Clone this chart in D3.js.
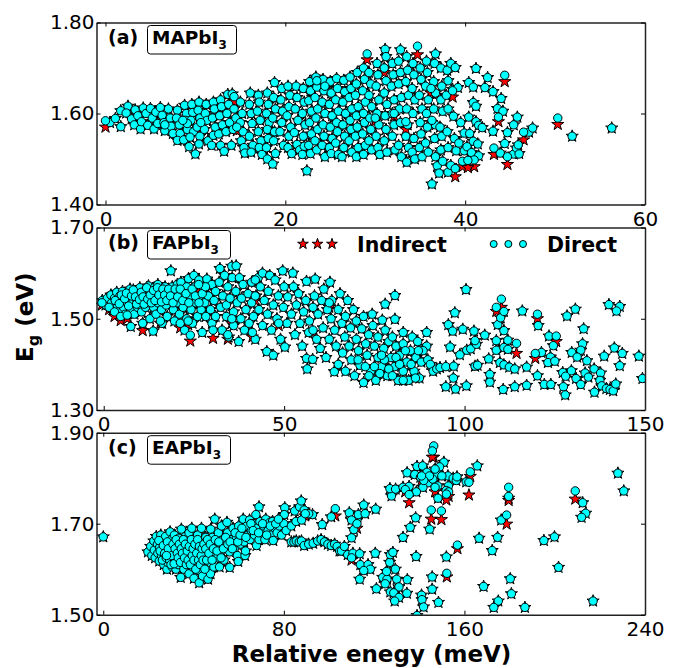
<!DOCTYPE html>
<html>
<head>
<meta charset="utf-8">
<script src="https://cdn.jsdelivr.net/npm/d3@7"></script>
<style>
  html, body { margin: 0; background: #fff; }
  svg { display: block; }
  text { font-family: "DejaVu Sans", sans-serif; }
  .tick text { font-size: 20px; }
</style>
</head>
<body>
<script>
// direct gap points: [energy meV, gap eV]
const mapiDirect = [
[0.5,1.58],[1.1,1.589],[1.7,1.571],[1.7,1.606],[2.5,1.616],[2.3,1.601],[3.3,1.608],[2.9,1.588],[3.2,1.575],[3.6,1.595],[3.9,1.566],[4.2,1.612],[4.0,1.582],[4.5,1.6],[4.7,1.574],[5.0,1.611],[5.2,1.59],[5.4,1.566],[5.6,1.603],[5.8,1.578],
[6.1,1.613],[6.3,1.596],[6.5,1.58],[6.6,1.562],[7.0,1.61],[7.2,1.59],[7.3,1.572],[7.5,1.556],[8.0,1.607],[7.9,1.59],[8.2,1.575],[8.3,1.556],[8.0,1.541],
[8.8,1.618],[9.0,1.6],[8.9,1.585],[9.1,1.565],[8.7,1.542],[9.6,1.62],[9.7,1.602],[9.5,1.585],[9.8,1.56],[9.4,1.548],[9.3,1.527],[10.4,1.625],[10.3,1.607],[10.5,1.59],[10.2,1.57],[10.5,1.55],[10.4,1.533],[10.0,1.511],
[11.2,1.62],[11.1,1.6],[11.3,1.585],[11.0,1.565],[11.4,1.54],[12.0,1.625],[12.1,1.61],[11.9,1.59],[12.2,1.57],[12.0,1.552],[11.8,1.53],[12.8,1.63],[12.9,1.615],[12.7,1.595],[13.0,1.575],[12.6,1.555],[12.8,1.53],[13.2,1.517],
[13.6,1.642],[13.7,1.62],[13.5,1.6],[13.8,1.58],[13.4,1.56],[14.1,1.643],[14.3,1.61],[14.5,1.59],[14.2,1.565],[14.0,1.53],[15.0,1.625],[15.2,1.6],[15.0,1.58],[15.3,1.56],[15.1,1.54],[15.4,1.525],[15.5,1.513],
[16.1,1.645],[16.0,1.62],[16.2,1.6],[16.3,1.578],[16.0,1.55],[16.4,1.53],[16.2,1.515],[17.0,1.64],[17.1,1.625],[16.9,1.605],[17.2,1.585],[17.0,1.56],[17.3,1.54],[17.1,1.525],[17.4,1.51],
[18.0,1.645],[18.1,1.62],[17.9,1.6],[18.2,1.58],[18.0,1.565],[18.1,1.545],[17.9,1.525],[18.0,1.5],[18.6,1.489],[18.8,1.668],[18.7,1.635],[18.9,1.61],[18.6,1.59],[18.8,1.56],[18.7,1.54],[18.9,1.512],
[19.6,1.655],[19.5,1.63],[19.7,1.605],[19.6,1.58],[19.4,1.56],[19.8,1.53],[20.3,1.66],[20.5,1.64],[20.4,1.615],[20.2,1.595],[20.6,1.57],[20.4,1.55],[20.3,1.525],[20.7,1.512],
[21.2,1.66],[21.3,1.635],[21.1,1.61],[21.4,1.585],[21.0,1.558],[21.3,1.532],[21.6,1.52],[22.0,1.655],[22.1,1.625],[21.9,1.6],[22.2,1.575],[22.0,1.55],[22.1,1.528],[21.9,1.51],[22.4,1.474],
[22.7,1.67],[22.8,1.65],[22.6,1.628],[22.9,1.605],[22.7,1.58],[22.9,1.555],[22.6,1.53],[22.8,1.512],[23.4,1.68],[23.5,1.658],[23.3,1.635],[23.6,1.61],[23.4,1.59],[23.6,1.565],[23.3,1.54],[23.5,1.52],
[24.2,1.675],[24.3,1.65],[24.1,1.625],[24.4,1.6],[24.2,1.575],[24.3,1.55],[24.1,1.53],[24.4,1.505],[25.0,1.67],[25.1,1.645],[24.9,1.62],[25.2,1.595],[25.0,1.57],[25.2,1.545],[24.9,1.525],[25.1,1.512],
[25.7,1.677],[25.8,1.655],[25.6,1.63],[25.9,1.605],[25.7,1.58],[25.8,1.56],[25.6,1.535],[25.9,1.51],[26.5,1.673],[26.6,1.648],[26.4,1.625],[26.7,1.6],[26.4,1.575],[26.6,1.55],[26.5,1.525],[26.3,1.505],
[27.2,1.68],[27.3,1.655],[27.1,1.635],[27.4,1.61],[27.2,1.585],[27.3,1.565],[27.1,1.54],[27.4,1.515],[27.9,1.665],[28.0,1.69],[27.8,1.64],[28.1,1.615],[27.9,1.595],[28.0,1.57],[27.8,1.55],[28.1,1.525],[27.9,1.505],
[28.7,1.7],[28.8,1.675],[28.6,1.65],[28.9,1.625],[28.7,1.6],[28.8,1.58],[28.6,1.555],[28.9,1.53],[28.7,1.51],[29.3,1.69],[29.5,1.665],[29.3,1.64],[29.6,1.615],[29.4,1.59],[29.5,1.565],[29.3,1.54],[29.6,1.52],
[30.2,1.71],[30.3,1.685],[30.1,1.66],[30.4,1.63],[30.2,1.6],[30.4,1.575],[30.1,1.55],[30.3,1.525],[30.5,1.51],[31.1,1.741],[31.2,1.725],[31.0,1.7],[31.2,1.672],[31.0,1.645],[31.3,1.62],[31.1,1.595],[31.2,1.565],[31.0,1.54],[31.3,1.515],
[31.9,1.71],[32.0,1.685],[31.8,1.66],[32.1,1.63],[31.9,1.6],[32.1,1.575],[31.9,1.55],[32.2,1.52],[32.8,1.74],[32.6,1.715],[32.8,1.69],[32.6,1.665],[32.9,1.635],[32.7,1.61],[32.8,1.58],[32.6,1.53],[32.9,1.505],[33.5,1.725],[33.6,1.695],[33.4,1.67],[33.7,1.64],[33.5,1.61],[33.6,1.575],[33.4,1.55],[33.7,1.525],[33.5,1.493],
[34.2,1.71],[34.3,1.685],[34.1,1.655],[34.4,1.63],[34.2,1.6],[34.3,1.545],[34.1,1.515],[34.4,1.5],[35.0,1.7],[35.1,1.675],[34.9,1.64],[35.2,1.61],[35.0,1.58],[35.1,1.555],[34.9,1.525],[35.2,1.505],
[35.7,1.715],[35.8,1.69],[35.6,1.66],[35.9,1.63],[35.7,1.6],[35.8,1.57],[35.6,1.535],[35.9,1.515],[36.7,1.731],[36.6,1.71],[36.5,1.67],[36.7,1.645],[36.5,1.61],[36.7,1.575],[36.6,1.545],[36.7,1.505],[36.9,1.485],[37.1,1.469],[36.3,1.445],
[37.3,1.7],[37.4,1.66],[37.3,1.63],[37.5,1.605],[37.2,1.57],[37.4,1.55],[37.3,1.52],[37.5,1.495],[38.0,1.695],[38.1,1.672],[37.9,1.64],[38.1,1.61],[38.0,1.56],[38.1,1.525],[38.1,1.471],[38.4,1.486],[38.4,1.71],[38.9,1.701],
[38.6,1.653],[39.2,1.657],[38.7,1.594],[39.5,1.58],[39.9,1.557],[40.5,1.556],[38.8,1.545],[39.0,1.518],[39.3,1.535],[39.9,1.518],[40.2,1.527],[40.7,1.514],[41.5,1.507],[40.9,1.539],[41.4,1.533],
[40.4,1.668],[40.9,1.658],[41.2,1.699],[42.5,1.679],[42.2,1.657],[43.1,1.648],[44.0,1.633],[43.6,1.611],[44.2,1.605],[40.9,1.624],[41.2,1.616],[40.4,1.592],[41.2,1.582],[41.5,1.574],[41.9,1.569],[43.1,1.561],
[44.4,1.534],[43.9,1.513],[45.4,1.511],[45.7,1.524],[45.9,1.531],[44.7,1.558],[45.4,1.575],[45.8,1.592],[47.1,1.559],[47.5,1.568],[51.9,1.55],[56.3,1.568]
];
// indirect gap points: [energy meV, circle gap eV, star gap eV]
const mapiIndirect = [
[0,1.584,1.57],[6.6,1.575,1.569],[9.1,1.578,1.573],[8.6,1.585,1.58],[10.6,1.58,1.566],[14.3,1.637,1.626],[14.6,1.57,1.562],[23.5,1.672,1.66],[24.4,1.66,1.655],[29.1,1.731,1.718],[31,1.7,1.69],[34.7,1.748,1.729],[30,1.59,1.583],[32.1,1.6,1.594],[33.4,1.582,1.565],[36.2,1.655,1.645],[36.3,1.585,1.58],[38.6,1.65,1.636],
[46.0,1.511,1.512],[50.3,1.59,1.576],[46.5,1.559,1.542],[44.7,1.505,1.488],[43.2,1.524,1.51],[43.7,1.592,1.582],[44.4,1.684,1.67],[41,1.498,1.483],[39.7,1.495,1.483],[40.3,1.497,1.481],[38.9,1.479,1.461]
];
const fapiDirect = [
[-0.4,1.54],[0.5,1.53],[1.0,1.545],[2.0,1.552],[2.2,1.535],[2.5,1.522],[3.0,1.545],[3.6,1.558],[3.8,1.53],[4.1,1.515],[4.5,1.55],[5.0,1.54],[5.2,1.56],[5.5,1.525],[6.0,1.51],[6.2,1.548],[6.5,1.535],[6.8,1.558],[7.3,1.565],[7.2,1.545],[7.5,1.52],[7.5,1.483],[8.0,1.535],[8.4,1.555],[8.5,1.51],[9.0,1.56],[9.2,1.54],[9.4,1.525],[9.7,1.55],[10,1.568],[10.2,1.53],[10.5,1.515],[10.8,1.555],[10.8,1.49],[11,1.54],[11.5,1.562],[11.6,1.525],[12,1.55],[12.4,1.572],[12.5,1.535],[12.8,1.5],[13,1.56],[13.4,1.545],[13.7,1.473],[13.8,1.525],[14,1.568],[14.5,1.51],[14.6,1.55],[15,1.575],[15,1.535],[15.7,1.56],[16,1.52],[16.2,1.49],[16.5,1.545],[17,1.57],[17.3,1.53],[17.6,1.505],[18,1.555],[18.6,1.605],[18.8,1.54],[19,1.57],[19.3,1.52],[19.6,1.495],[20,1.555],[20.4,1.575],[20.6,1.535],[21,1.51],[21.4,1.58],[21.5,1.555],[22,1.525],[22.4,1.475],[22.6,1.54],[23,1.57],[23,1.5],[23.5,1.588],[24,1.55],[24.2,1.52],[24.6,1.49],[25,1.595],[25.2,1.57],[25.5,1.535],[26,1.505],[26.4,1.585],[26.6,1.55],[27,1.52],[27.3,1.47],[27.5,1.57],[28,1.535],[28.3,1.505],[28.6,1.587],[29,1.55],[29.6,1.52],[30,1.575],[30,1.49],[30.6,1.54],[31,1.56],[31,1.505],[32.2,1.61],[32,1.58],[32.4,1.525],[32.8,1.475],[33,1.55],[33.5,1.595],[34,1.505],[34,1.53],[34.4,1.57],[34.6,1.46],[35,1.545],[35.5,1.615],[35.6,1.59],[36,1.515],[36,1.485],[36.7,1.616],[36.6,1.56],[37,1.535],[37.4,1.45],[37.6,1.59],[38,1.5],[38.2,1.545],[38.6,1.575],[39,1.475],[39.4,1.52],[40,1.555],[40.3,1.49],[41,1.58],[41,1.535],[41.5,1.505],[42,1.455],[42.2,1.55],[42.8,1.59],[43,1.52],[43.4,1.57],[44,1.485],[44,1.6],[44.5,1.54],[45.2,1.428],[45.4,1.51],[45.6,1.56],[46,1.595],[46.5,1.475],[47,1.42],[47,1.53],[47.5,1.585],[48,1.5],[48.4,1.55],[49,1.455],[49.6,1.605],[49.8,1.525],[50,1.57],[50.2,1.438],[50.8,1.49],[51,1.548],[52,1.51],[52.4,1.6],[52.6,1.57],[53,1.465],[53.4,1.53],[54,1.555],[54.4,1.49],[55,1.44],[55.4,1.515],[56,1.54],[56.2,1.582],[56.2,1.413],[56.4,1.39],[56.8,1.47],[57,1.495],[57.9,1.411],[58,1.525],[58.6,1.587],[58.4,1.55],[59,1.455],[59.4,1.51],[60,1.435],[60.4,1.54],[60.8,1.48],[61,1.565],[61.6,1.415],[62,1.52],[62.5,1.455],[62.7,1.58],[63,1.5],[63.2,1.54],[63.9,1.384],[64,1.475],[64.4,1.44],[65,1.52],[65,1.4],[65.5,1.555],[66,1.49],[66.2,1.425],[66.8,1.46],[67,1.505],[67,1.385],[67.6,1.54],[68,1.44],[68.4,1.48],[68.6,1.41],[69.2,1.52],[69.5,1.375],[70,1.455],[70,1.495],[70.6,1.43],[71,1.398],[71.5,1.478],[72,1.36],[72,1.505],[72.6,1.445],[73,1.42],[73.4,1.465],[74,1.385],[74.4,1.51],[74.6,1.485],[75,1.44],[75.4,1.365],[76,1.415],[76,1.46],[77.2,1.497],[77,1.395],[77.6,1.435],[78,1.532],[78,1.475],[78.6,1.375],[79,1.45],[79.6,1.415],[80,1.46],[80.7,1.551],[80.7,1.499],[80.6,1.395],[81,1.44],[81.6,1.365],[82,1.42],[83,1.47],[83,1.385],[83,1.445],[84,1.405],[84.5,1.365],[85,1.43],[85.5,1.46],[86,1.385],[86.5,1.415],[87,1.45],[87.5,1.37],[88,1.405],[89.5,1.47],[89.5,1.44],[88.5,1.43],[89.8,1.41],[90.5,1.4],
[3.2,1.54],[4.3,1.533],[4.9,1.552],[5.8,1.544],[6.3,1.556],[6.9,1.528],[7.7,1.55],[8.2,1.563],[8.8,1.548],[9.1,1.532],[9.9,1.542],[10.4,1.558],[10.9,1.548],[11.2,1.532],[11.9,1.568],[12.2,1.543],[12.9,1.552],[13.2,1.535],[13.8,1.562],[14.2,1.54],[14.9,1.568],[15.3,1.552],[16,1.537],[16.4,1.565],[16.9,1.552],[17.5,1.54],[18,1.565],[18.5,1.55],[19.2,1.535],[19.8,1.565],[20.5,1.548],[21.2,1.565],[21.9,1.54],[22.8,1.555],[23.6,1.535],[24.5,1.565],[25.4,1.55],[26.4,1.535],[27.3,1.555],[28.2,1.57],
[70.5,1.41],[72.5,1.395],[73.5,1.375],[75,1.395],[76.5,1.38],[77.8,1.41],[79,1.39],[80,1.375],[81,1.415],[82,1.4],[83,1.365],[83.6,1.43],[85.2,1.4],[86.4,1.37],[87.2,1.43],
[91.3,1.385],[92.3,1.39],[93.2,1.393],[94.8,1.395],[97,1.396],[95.5,1.487],[97.3,1.513],[96.7,1.473],[99.5,1.477],[102.6,1.473],[96,1.438],[98.7,1.421],[100.6,1.431],[101.7,1.434],[103.3,1.444],[102.9,1.452],[105.6,1.464],[100.4,1.564],[96.9,1.37],[94.8,1.351],[97.5,1.346],[100.5,1.353],[102.9,1.396],[103.6,1.398],[106.7,1.412],[107,1.378],[107,1.361],[108.8,1.452],[108.8,1.431],[109.2,1.487],[110,1.502],[110.9,1.516],[110.9,1.474],[110.9,1.437],[112,1.453],[112,1.433],[109.8,1.404],[110.9,1.399],[112.4,1.394],[113.9,1.39],[117.2,1.394],[116,1.517],[110.7,1.345],[113.9,1.351],[117.2,1.354],[120.2,1.375],[122.1,1.356],[123.9,1.356],[120.4,1.485],[121.3,1.426],[123.8,1.416],[123.1,1.404],[125,1.407],[123.4,1.462],[124.6,1.441],[127.4,1.351],[127.9,1.333],[127.2,1.382],[128,1.374],[129.6,1.386],[128.4,1.506],[130.7,1.521],[130.9,1.369],[132.2,1.356],[133,1.478],[132.7,1.445],[132.2,1.431],[129.7,1.426],[131.2,1.416],[133.4,1.381],[133.9,1.408],[134.3,1.372],[135.9,1.39],[137.7,1.381],[137.5,1.365],[136,1.339],[138,1.353],[139.3,1.347],[140.3,1.345],[141.2,1.342],[141.9,1.357],[138.7,1.418],[141.5,1.436],[143.7,1.424],[143,1.397],[140,1.531],[143,1.527],[142.1,1.517],[148.3,1.418],[149.3,1.369]
];
const fapiIndirect = [
[-0.5,1.535,1.53],[1.5,1.525,1.52],[3,1.515,1.505],[4.7,1.505,1.496],[6.5,1.508,1.5],[10.8,1.49,1.474],[15.7,1.495,1.49],[21.2,1.49,1.48],[23.4,1.495,1.487],[24,1.464,1.451],[26.3,1.575,1.565],[30.3,1.475,1.457],[34.4,1.465,1.455],[35.5,1.5,1.49],[41.2,1.47,1.46],[42,1.585,1.58],[42,1.55,1.54],[48.5,1.49,1.485],[58,1.475,1.47],[62.5,1.535,1.525],[77,1.42,1.415],
[110.2,1.543,1.525],[108.8,1.525,1.516],[114.4,1.446,1.424],[119.6,1.424,1.413],[120.2,1.51,1.5],[125.4,1.462,1.45]
];
const eapiDirect = [
[0,1.671],[19.8,1.638],[21,1.65],[21.5,1.63],[22.4,1.662],[22.6,1.642],[23,1.625],[23.5,1.672],[24,1.655],[24.2,1.635],[24.8,1.618],[25,1.648],[25.5,1.675],[25.8,1.63],[26,1.66],[26.4,1.642],[26.8,1.61],[27,1.625],[27.3,1.652],[27.6,1.672],[28,1.638],[28.2,1.6],[28.5,1.615],[29,1.655],[29.2,1.63],[29.6,1.682],[30,1.645],[30.2,1.665],[30.5,1.605],[30.8,1.62],[31.2,1.638],[31.5,1.675],[32,1.655],[32.2,1.6],[32.6,1.625],[33,1.645],[33.2,1.61],[33.5,1.668],[34,1.635],[34.3,1.582],[34.6,1.688],[35,1.655],[35.2,1.62],[35.7,1.6],[36,1.642],[36.4,1.672],[36.8,1.63],[37,1.61],[37.5,1.655],[38,1.59],[38,1.68],[38.4,1.625],[38.8,1.64],[39.2,1.69],[39.5,1.605],[40,1.66],[40.2,1.58],[40.6,1.632],[41,1.615],[41.4,1.648],[41.8,1.675],[42.2,1.598],[42.5,1.57],[42.8,1.625],[43.2,1.64],[43.5,1.69],[44,1.585],[44,1.66],[44.4,1.61],[45,1.63],[45.4,1.67],[46,1.6],[46.4,1.578],[46.8,1.648],[47.2,1.615],[47.6,1.688],[47.5,1.59],[48,1.635],[48.4,1.67],[49,1.605],[49.4,1.71],[49.8,1.652],[50.5,1.625],[51,1.68],[51.5,1.605],[52,1.64],[52.4,1.695],[53,1.665],[53.5,1.62],[54,1.65],[54.8,1.703],[55,1.68],[56,1.604],[56,1.638],[57,1.665],[57.5,1.69],[58,1.645],[59,1.67],[59.4,1.63],[59.8,1.617],[60,1.695],[60.8,1.655],[61.5,1.68],[62,1.71],[62.4,1.66],[62.8,1.63],[63,1.64],[63.6,1.695],[64,1.675],[64.8,1.708],[65,1.665],[65.6,1.685],[66.5,1.7],[67,1.675],[67.9,1.652],[68,1.69],[69,1.737],[69,1.665],[69.4,1.705],[70,1.68],[71,1.695],[71.6,1.665],[72,1.71],[73,1.685],[73.6,1.702],[74.5,1.675],[75.3,1.663],[75,1.705],[76,1.69],[77,1.68],[78,1.695],[79,1.675],[80.4,1.735],[80.2,1.72],[80,1.7],[81,1.685],[83.3,1.695],[84.8,1.728],[85.4,1.705],[87,1.737],[87.7,1.75],[87.9,1.708],[89,1.73],[92.7,1.72],[91,1.722],
[24.6,1.663],[25.2,1.64],[26.2,1.62],[26.6,1.652],[27.2,1.635],[27.9,1.625],[28.4,1.66],[28.8,1.645],[29.4,1.62],[30,1.61],[30.4,1.63],[30.9,1.655],[31.4,1.612],[31.8,1.645],[32.3,1.665],[32.8,1.635],[33.2,1.625],[33.7,1.655],[34.2,1.615],[34.6,1.645],[35.1,1.635],[35.5,1.665],[36,1.625],[36.4,1.655],[36.8,1.61],[37.2,1.64],[37.6,1.62],[38.1,1.65],[38.6,1.61],[39,1.665],[39.4,1.63],[39.8,1.645],[40.2,1.62],[40.6,1.655],[41,1.6],[41.4,1.635],[41.8,1.665],[42.2,1.62],[42.6,1.65],[43,1.61],[43.4,1.63],[43.8,1.645],[44.2,1.62],[44.6,1.655],[45,1.6],[45.4,1.645],[45.8,1.62],[46.2,1.665],[46.8,1.635],[47.4,1.655],[48.2,1.62],[48.8,1.645],[49.6,1.665],[50.4,1.64],[51.2,1.66],[52.2,1.625],[53.2,1.645],[54.2,1.67],[55.2,1.655],[56.2,1.66],[57.2,1.645],[58.4,1.68],[59.6,1.66],[60.6,1.675],[61.4,1.69],[63.2,1.67],[65.4,1.7],[66.4,1.685],[68.8,1.68],[70.6,1.7],[72.4,1.675],[74,1.695],[76.4,1.7],[77.6,1.71],
[83.3,1.66],[84.5,1.66],[85.5,1.662],[86.8,1.66],[87.8,1.662],[89,1.652],[91,1.655],[93,1.657],[95,1.662],[96.5,1.665],[98,1.66],[99.5,1.655],[101,1.652],[102.5,1.655],[103.6,1.65],[104.7,1.64],[105.5,1.64],[106.8,1.65],[97,1.698],[101,1.715],[108.3,1.632],[110,1.669],[110.6,1.635],[111,1.687],[112.4,1.708],[109,1.724],[110,1.708],[113,1.72],[115.4,1.741],[116,1.722],[120.7,1.732],[120.5,1.635],[113.6,1.634],[113.9,1.61],[117.3,1.61],[118.3,1.6],[115.4,1.597],[113.6,1.578],[123.8,1.582],[125.7,1.578],[124.9,1.568],[125.5,1.595],[126.9,1.615],[127.2,1.632],[128.3,1.637],[129.4,1.6],[130,1.578],[121,1.557],[131,1.561],[127.2,1.55],[128.7,1.548],[134.5,1.547],[134.7,1.577],[131,1.538],[129.1,1.53],[132.8,1.67],[136,1.692],[138.4,1.713],[138.6,1.628],[144.6,1.688],[148.3,1.756],[127.7,1.761],[127,1.777],[129.5,1.776],[132.8,1.78],[135.5,1.782],[134.6,1.812],[138,1.808],[139,1.826],[141.5,1.827],[143.4,1.813],[140.5,1.802],[145.3,1.795],[148,1.81],[150.9,1.835],[149,1.825],[152.7,1.805],[155,1.8],[156.4,1.795],[152.9,1.783],[151.9,1.773],[148.2,1.783],[143.9,1.79],[141.6,1.78],[138.7,1.77],[146,1.798],[150,1.805],[147,1.82],[144.5,1.805],[142,1.795],[160.8,1.792],[156.7,1.803],[165.7,1.827],[145.7,1.583],[145.7,1.556],[148.5,1.527],[141,1.543],[141.2,1.533],[141.9,1.517],[139,1.498],[152,1.627],[166.5,1.668],[174.7,1.67],[172.3,1.641],[168.5,1.562],[180.3,1.579],[180.8,1.546],[175,1.53],[173,1.516],[186.8,1.516],[176.3,1.708],[195.2,1.663],[199.9,1.671],[201.7,1.604],[217,1.53],[212.4,1.746],[213.7,1.723],[211.9,1.714],[228,1.811],[230.6,1.772]
];
const eapiIndirect = [
[28,1.63,1.618],[67.6,1.72,1.706],[89.5,1.722,1.717],[102.8,1.733,1.717],[112.4,1.7,1.69],[110,1.625,1.62],[133.8,1.775,1.77],[135.5,1.764,1.746],[141,1.805,1.795],[145.3,1.73,1.71],[149.8,1.728,1.709],[146.4,1.871,1.846],[145.8,1.86,1.846],[147,1.78,1.77],[153,1.77,1.76],[152,1.765,1.752],[156.9,1.653,1.645],[152.2,1.591,1.583],[162.6,1.814,1.804],[162,1.791,1.763],[179.6,1.78,1.756],[179.6,1.76,1.751],[178.7,1.719,1.699],[209.1,1.772,1.754]
];

const xTicksA = [0, 20, 40, 60], xTicksB = [0, 50, 100, 150], xTicksC = [0, 80, 160, 240];
const yTicksA = [1.4, 1.6, 1.8], yTicksB = [1.3, 1.5, 1.7], yTicksC = [1.5, 1.7, 1.9];
const panelLabels = ["(a)", "(b)", "(c)"];
const compoundNames = ["MAPbI", "FAPbI", "EAPbI"];
const legendNames = ["Indirect", "Direct"];

const width = 680, height = 668;
const left = 96.5, right = 645;

const svg = d3.select("body").append("svg")
  .attr("width", width)
  .attr("height", height);

const starPath = d3.symbol().type(d3.symbolStar);

function drawPanel(i, cfg) {
  const x = d3.scaleLinear().domain(cfg.xDomain).range([left, right]);
  const y = d3.scaleLinear().domain(cfg.yDomain).range([cfg.bottom, cfg.top]);

  svg.append("clipPath").attr("id", "clip" + i)
    .append("rect")
    .attr("x", left).attr("y", cfg.top)
    .attr("width", right - left).attr("height", cfg.bottom - cfg.top);

  const g = svg.append("g").attr("clip-path", `url(#clip${i})`);

  // stars go under the circles
  g.selectAll(".star-d").data(cfg.direct).join("path")
    .attr("d", starPath.size(46)())
    .attr("transform", d => `translate(${x(d[0])},${y(d[1])})`)
    .attr("fill", "#00ffff").attr("stroke", "#000").attr("stroke-width", 1);
  g.selectAll(".star-i").data(cfg.indirect).join("path")
    .attr("d", starPath.size(46)())
    .attr("transform", d => `translate(${x(d[0])},${y(d[2])})`)
    .attr("fill", "#ff0000").attr("stroke", "#000").attr("stroke-width", 1);
  g.selectAll(".dot").data(cfg.direct.concat(cfg.indirect)).join("circle")
    .attr("cx", d => x(d[0]))
    .attr("cy", d => y(d[1]))
    .attr("r", 4.2)
    .attr("fill", "#00ffff").attr("stroke", "#000").attr("stroke-width", 1);

  const fmt = d3.format(".2f");
  svg.append("g")
    .attr("transform", `translate(0,${cfg.bottom})`)
    .call(d3.axisBottom(x).tickValues(cfg.xTicks).tickSize(-4).tickSizeOuter(0).tickPadding(7));
  svg.append("g")
    .attr("transform", `translate(0,${cfg.top})`)
    .call(d3.axisTop(x).tickValues(cfg.xTicks).tickSize(-4).tickSizeOuter(0).tickFormat(""));
  svg.append("g")
    .attr("transform", `translate(${left},0)`)
    .call(d3.axisLeft(y).tickValues(cfg.yTicks).tickSize(-4).tickSizeOuter(0).tickPadding(2).tickFormat(fmt));
  svg.append("g")
    .attr("transform", `translate(${right},0)`)
    .call(d3.axisRight(y).tickValues(cfg.yTicks).tickSize(-4).tickSizeOuter(0).tickFormat(""));

  svg.append("text")
    .attr("x", 108).attr("y", cfg.top + 21)
    .attr("font-size", 19).attr("font-weight", "bold")
    .text(panelLabels[i]);

  svg.append("rect")
    .attr("x", 147.5).attr("y", cfg.top + 3)
    .attr("width", cfg.boxWidth).attr("height", 28.5)
    .attr("rx", 3)
    .attr("fill", "#fff").attr("stroke", "#000").attr("stroke-width", 1);
  const label = svg.append("text")
    .attr("x", 152).attr("y", cfg.top + 21)
    .attr("font-size", 18.5).attr("font-weight", "bold")
    .text(compoundNames[i]);
  label.append("tspan")
    .attr("dy", 5).attr("font-size", 12)
    .text("3");
}

drawPanel(0, { top: 22.5, bottom: 204.5, xDomain: [-1, 60], yDomain: [1.4, 1.8], xTicks: xTicksA, yTicks: yTicksA, direct: mapiDirect, indirect: mapiIndirect, boxWidth: 89 });
drawPanel(1, { top: 227.5, bottom: 410, xDomain: [-2, 150], yDomain: [1.3, 1.7], xTicks: xTicksB, yTicks: yTicksB, direct: fapiDirect, indirect: fapiIndirect, boxWidth: 83 });
drawPanel(2, { top: 432.7, bottom: 614.7, xDomain: [-3, 240], yDomain: [1.5, 1.9], xTicks: xTicksC, yTicks: yTicksC, direct: eapiDirect, indirect: eapiIndirect, boxWidth: 83 });

// legend lives in panel b
const legendY = 244;
const legendStarX = d3.scalePoint().domain([0, 1, 2]).range([303, 332]);
const legendDotX = d3.scalePoint().domain([0, 1, 2]).range([493.7, 523]);
svg.append("g").selectAll("path").data(legendStarX.domain()).join("path")
  .attr("d", starPath.size(36)())
  .attr("transform", d => `translate(${legendStarX(d)},${legendY})`)
  .attr("fill", "#ff0000").attr("stroke", "#000").attr("stroke-width", 1);
svg.append("g").selectAll("circle").data(legendDotX.domain()).join("circle")
  .attr("cx", d => legendDotX(d)).attr("cy", legendY).attr("r", 3.5)
  .attr("fill", "#00ffff").attr("stroke", "#000").attr("stroke-width", 1);
svg.append("text").attr("x", 357).attr("y", 251.5)
  .attr("font-size", 20.5).attr("font-weight", "bold").text(legendNames[0]);
svg.append("text").attr("x", 547).attr("y", 251.5)
  .attr("font-size", 20.5).attr("font-weight", "bold").text(legendNames[1]);

// axis titles
svg.append("text")
  .attr("x", 371.5).attr("y", 661.5)
  .attr("text-anchor", "middle")
  .attr("font-size", 23).attr("font-weight", "bold")
  .text("Relative enegy (meV)");
const yTitle = svg.append("text")
  .attr("transform", "translate(33,362) rotate(-90)")
  .attr("font-size", 23).attr("font-weight", "bold")
  .text("E");
yTitle.append("tspan").attr("dy", 6).attr("font-size", 16).text("g");
yTitle.append("tspan").attr("dy", -6).text(" (eV)");

svg.selectAll(".domain").attr("stroke", "#222").attr("stroke-width", 1.5);
</script>
</body>
</html>
